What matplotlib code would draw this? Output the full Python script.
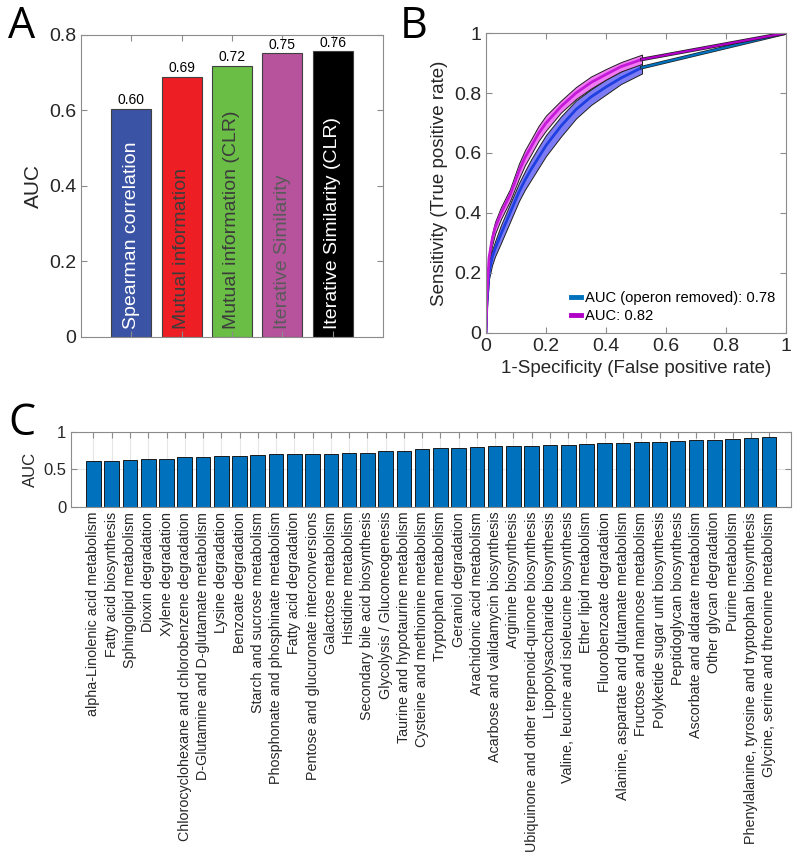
import numpy as np
import matplotlib
matplotlib.use("Agg")
import matplotlib.pyplot as plt
from matplotlib.lines import Line2D

plt.rcParams['font.family'] = ['Liberation Sans', 'DejaVu Sans']
plt.rcParams['axes.edgecolor'] = '#8c8c8c'
plt.rcParams['xtick.color'] = '#8c8c8c'
plt.rcParams['ytick.color'] = '#8c8c8c'
plt.rcParams['xtick.labelcolor'] = '#262626'
plt.rcParams['ytick.labelcolor'] = '#262626'

# ---- Panel A data ----
methods = ['Spearman correlation', 'Mutual information', 'Mutual information (CLR)',
           'Iterative Similarity', 'Iterative Similarity (CLR)']
method_auc = [0.605, 0.690, 0.719, 0.751, 0.757]
method_auc_labels = ['0.60', '0.69', '0.72', '0.75', '0.76']
method_colors = ['#3a53a4', '#ed1f24', '#6abd45', '#b6539c', '#000000']
method_text_colors = ['white', '#3c3c3c', '#3c3c3c', '#5a5a5a', 'white']

# ---- Panel B data (ROC curves) ----
fpr = [0, 0.003, 0.01, 0.02, 0.03, 0.05, 0.08, 0.11, 0.13, 0.15, 0.175, 0.2, 0.25,
       0.3, 0.35, 0.4, 0.45, 0.52]
tpr_all = [0, 0.12, 0.25, 0.31, 0.35, 0.40, 0.46, 0.54, 0.585, 0.62, 0.665, 0.70, 0.755,
           0.80, 0.835, 0.862, 0.888, 0.912]
tpr_all_lo = [0, 0.10, 0.23, 0.29, 0.33, 0.38, 0.44, 0.515, 0.56, 0.595, 0.64, 0.675, 0.735,
              0.78, 0.815, 0.845, 0.872, 0.897]
tpr_all_hi = [0, 0.14, 0.27, 0.33, 0.37, 0.42, 0.48, 0.565, 0.61, 0.645, 0.69, 0.725, 0.775,
              0.82, 0.855, 0.88, 0.903, 0.928]
tpr_op = [0, 0.10, 0.20, 0.25, 0.28, 0.33, 0.40, 0.47, 0.51, 0.545, 0.585, 0.625, 0.69,
          0.745, 0.787, 0.82, 0.85, 0.885]
tpr_op_lo = [0, 0.08, 0.18, 0.225, 0.255, 0.30, 0.37, 0.44, 0.478, 0.51, 0.55, 0.59, 0.655,
             0.715, 0.76, 0.795, 0.83, 0.865]
tpr_op_hi = [0, 0.12, 0.22, 0.275, 0.305, 0.36, 0.43, 0.50, 0.54, 0.578, 0.62, 0.66, 0.722,
             0.775, 0.812, 0.845, 0.872, 0.905]
roc_end = [1.0, 1.0]

# ---- Panel C data ----
pathways = ['alpha-Linolenic acid metabolism', 'Fatty acid biosynthesis', 'Sphingolipid metabolism',
            'Dioxin degradation', 'Xylene degradation',
            'Chlorocyclohexane and chlorobenzene degradation',
            'D-Glutamine and D-glutamate metabolism', 'Lysine degradation', 'Benzoate degradation',
            'Starch and sucrose metabolism', 'Phosphonate and phosphinate metabolism',
            'Fatty acid degradation', 'Pentose and glucuronate interconversions',
            'Galactose metabolism', 'Histidine metabolism', 'Secondary bile acid biosynthesis',
            'Glycolysis / Gluconeogenesis', 'Taurine and hypotaurine metabolism',
            'Cysteine and methionine metabolism', 'Tryptophan metabolism', 'Geraniol degradation',
            'Arachidonic acid metabolism', 'Acarbose and validamycin biosynthesis',
            'Arginine biosynthesis', 'Ubiquinone and other terpenoid-quinone biosynthesis',
            'Lipopolysaccharide biosynthesis', 'Valine, leucine and isoleucine biosynthesis',
            'Ether lipid metabolism', 'Fluorobenzoate degradation',
            'Alanine, aspartate and glutamate metabolism', 'Fructose and mannose metabolism',
            'Polyketide sugar unit biosynthesis', 'Peptidoglycan biosynthesis',
            'Ascorbate and aldarate metabolism', 'Other glycan degradation', 'Purine metabolism',
            'Phenylalanine, tyrosine and tryptophan biosynthesis',
            'Glycine, serine and threonine metabolism']
pathway_auc = [0.610, 0.614, 0.628, 0.641, 0.646, 0.664, 0.673, 0.677, 0.677, 0.691,
               0.700, 0.700, 0.709, 0.709, 0.717, 0.722, 0.753, 0.753, 0.771, 0.789,
               0.789, 0.794, 0.807, 0.812, 0.812, 0.821, 0.830, 0.843, 0.852, 0.852,
               0.870, 0.870, 0.883, 0.897, 0.897, 0.901, 0.915, 0.933]

fig = plt.figure(figsize=(8, 8.64), dpi=100)

# ================= A =================
axA = fig.add_axes([0.10125, 0.6100, 0.3775, 0.3495])
xa = np.arange(1, len(methods) + 1)
axA.bar(xa, method_auc, width=0.8, color=method_colors, edgecolor='#404040', linewidth=0.8)
for i in range(len(methods)):
    axA.text(xa[i], method_auc[i] + 0.004, method_auc_labels[i], ha='center', va='bottom',
             fontsize=10, color='black')
    axA.text(xa[i], 0.022, methods[i], rotation=90, ha='center', va='bottom',
             fontsize=14, color=method_text_colors[i])
axA.set_xlim(0, 6)
axA.set_ylim(0, 0.8)
axA.set_xticks(xa)
axA.set_xticklabels([])
axA.set_yticks([0, 0.2, 0.4, 0.6, 0.8])
axA.set_yticklabels(['0', '0.2', '0.4', '0.6', '0.8'])
axA.tick_params(direction='in', top=True, right=True, labelsize=14, length=4)
axA.set_ylabel('AUC', fontsize=15, color='#262626')

# ================= B =================
axB = fig.add_axes([0.6075, 0.6146, 0.375, 0.3472])
axB.fill_between(fpr, tpr_op_lo, tpr_op_hi, facecolor='#7d7cf4', edgecolor='#202020', linewidth=0.7)
axB.plot(fpr, tpr_op, color='#1f3fe0', linewidth=2)
axB.plot([fpr[-1], roc_end[0]], [tpr_op[-1], roc_end[1]], color='#202020', linewidth=2.6)
axB.plot([fpr[-1], roc_end[0]], [tpr_op[-1], roc_end[1]], color='#0072bd', linewidth=1.6)
axB.fill_between(fpr, tpr_all_lo, tpr_all_hi, facecolor='#f27af4', edgecolor='#202020', linewidth=0.7)
axB.plot(fpr, tpr_all, color='#c21ad6', linewidth=2)
axB.plot([fpr[-1], roc_end[0]], [tpr_all[-1], roc_end[1]], color='#202020', linewidth=2.6)
axB.plot([fpr[-1], roc_end[0]], [tpr_all[-1], roc_end[1]], color='#b000c8', linewidth=1.6)
axB.set_xlim(0, 1)
axB.set_ylim(0, 1)
ticks = [0, 0.2, 0.4, 0.6, 0.8, 1]
tick_labels = ['0', '0.2', '0.4', '0.6', '0.8', '1']
axB.set_xticks(ticks)
axB.set_xticklabels(tick_labels)
axB.set_yticks(ticks)
axB.set_yticklabels(tick_labels)
axB.tick_params(direction='in', top=True, right=True, labelsize=14, length=4)
axB.set_xlabel('1-Specificity (False positive rate)', fontsize=13.5, color='#262626')
axB.set_ylabel('Sensitivity (True positive rate)', fontsize=13.5, color='#262626')
handles = [Line2D([0], [0], color='#0072bd', linewidth=3.5),
           Line2D([0], [0], color='#b000c8', linewidth=3.5)]
axB.legend(handles, ['AUC (operon removed): 0.78', 'AUC: 0.82'], loc='lower right',
           frameon=False, fontsize=10.6, handlelength=0.7, handletextpad=0.3,
           labelspacing=0.25, borderaxespad=0.3)

# ================= C =================
axC = fig.add_axes([0.08875, 0.4132, 0.9, 0.0868])
xc = np.arange(1, len(pathways) + 1)
axC.set_axisbelow(True)
axC.grid(True, color='#e6e6e6', linewidth=0.8)
axC.bar(xc, pathway_auc, width=0.8, color='#0072bd', edgecolor='#1a1a1a', linewidth=0.7)
axC.set_xlim(-0.23, 39.2)
axC.set_ylim(0, 1)
axC.set_xticks(xc)
axC.set_xticklabels(pathways, rotation=90, fontsize=10.3, color='#262626')
axC.set_yticks([0, 0.5, 1])
axC.set_yticklabels(['0', '0.5', '1'])
axC.tick_params(axis='y', labelsize=12)
axC.tick_params(direction='in', top=True, right=True, length=4)
axC.set_ylabel('AUC', fontsize=12, color='#262626')

# panel letters
fig.text(0.010, 0.995, 'A', fontsize=31, va='top', ha='left', family='Open Sans')
fig.text(0.500, 0.995, 'B', fontsize=31, va='top', ha='left', family='Open Sans')
fig.text(0.010, 0.535, 'C', fontsize=31, va='top', ha='left', family='Open Sans')

plt.savefig('out.png', dpi=100)
